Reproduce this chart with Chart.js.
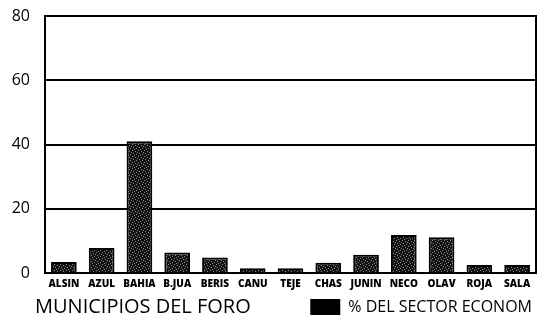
<!DOCTYPE html>
<html>
<head>
<meta charset="utf-8">
<script src="https://cdn.jsdelivr.net/npm/chart.js@4"></script>
<style>
  html, body { margin: 0; padding: 0; background: #fff; }
  #wrap { width: 547px; height: 320px; }
</style>
</head>
<body>
<div id="wrap"><canvas id="chart"></canvas></div>
<script>
const municipios = ["ALSIN", "AZUL", "BAHIA", "B.JUA", "BERIS", "CANU", "TEJE", "CHAS", "JUNIN", "NECO", "OLAV", "ROJA", "SALA"];
const sectorPct = [3.4, 7.8, 41.0, 6.4, 4.8, 1.5, 1.5, 3.2, 5.7, 11.8, 11.1, 2.5, 2.5];
const yTicks = [0, 20, 40, 60, 80];

const FONT = "'Open Sans', 'DejaVu Sans', sans-serif";

// stippled dark fill for the bars
function makeStipple() {
  const c = document.createElement("canvas");
  c.width = 6; c.height = 6;
  const g = c.getContext("2d");
  g.fillStyle = "#111";
  g.fillRect(0, 0, 6, 6);
  g.fillStyle = "#8a8a8a";
  [[0, 0], [3, 1], [1, 3], [4, 4], [2, 5], [5, 2]].forEach(p => g.fillRect(p[0], p[1], 1, 1));
  return document.getElementById("chart").getContext("2d").createPattern(c, "repeat");
}

// axis title on the legend row + right frame line
const extras = {
  id: "extras",
  afterDraw(chart) {
    const ctx = chart.ctx;
    const a = chart.chartArea;
    ctx.save();
    ctx.strokeStyle = "#000";
    ctx.lineWidth = 2;
    ctx.beginPath();
    ctx.moveTo(a.right, a.top - 1);
    ctx.lineTo(a.right, a.bottom + 1);
    ctx.stroke();

    const box = chart.legend.legendHitBoxes[0];
    const y = box ? box.top + box.height / 2 : 311;
    ctx.fillStyle = "#000";
    ctx.font = "20px " + FONT;
    ctx.textBaseline = "middle";
    ctx.textAlign = "left";
    ctx.fillText("MUNICIPIOS DEL FORO", 35, y);
    ctx.restore();
  }
};

new Chart(document.getElementById("chart"), {
  type: "bar",
  data: {
    labels: municipios,
    datasets: [{
      label: "% DEL SECTOR ECONOM",
      data: sectorPct,
      backgroundColor: makeStipple(),
      borderColor: "#000",
      borderWidth: 2,
      barPercentage: 0.68,
      categoryPercentage: 1
    }]
  },
  options: {
    responsive: true,
    maintainAspectRatio: false,
    animation: false,
    layout: { padding: { top: 0, right: 11, left: 0, bottom: -5 } },
    plugins: {
      tooltip: { enabled: false },
      legend: {
        position: "bottom",
        align: "end",
        labels: {
          boxWidth: 30,
          boxHeight: 16,
          padding: 4,
          color: "#000",
          font: { family: FONT, size: 16 },
          generateLabels(chart) {
            return [{
              text: chart.data.datasets[0].label,
              fillStyle: "#000",
              strokeStyle: "#000",
              lineWidth: 0,
              datasetIndex: 0
            }];
          }
        }
      }
    },
    scales: {
      x: {
        grid: { display: false, drawTicks: false },
        border: { color: "#000", width: 2 },
        ticks: {
          color: "#000",
          padding: 5,
          maxRotation: 0,
          autoSkip: false,
          font: { family: FONT, size: 10, weight: "800" }
        }
      },
      y: {
        min: 0,
        max: 80,
        afterFit(scale) {
          scale.width = 45;
          scale.paddingTop = 16;
          scale.paddingBottom = 10;
        },
        afterBuildTicks(scale) { scale.ticks = yTicks.map(v => ({ value: v })); },
        grid: { color: "#000", lineWidth: 2, drawTicks: false },
        border: { color: "#000", width: 2 },
        ticks: {
          color: "#000",
          padding: 15,
          font: { family: FONT, size: 16 }
        }
      }
    }
  },
  plugins: [extras]
});
</script>
</body>
</html>
